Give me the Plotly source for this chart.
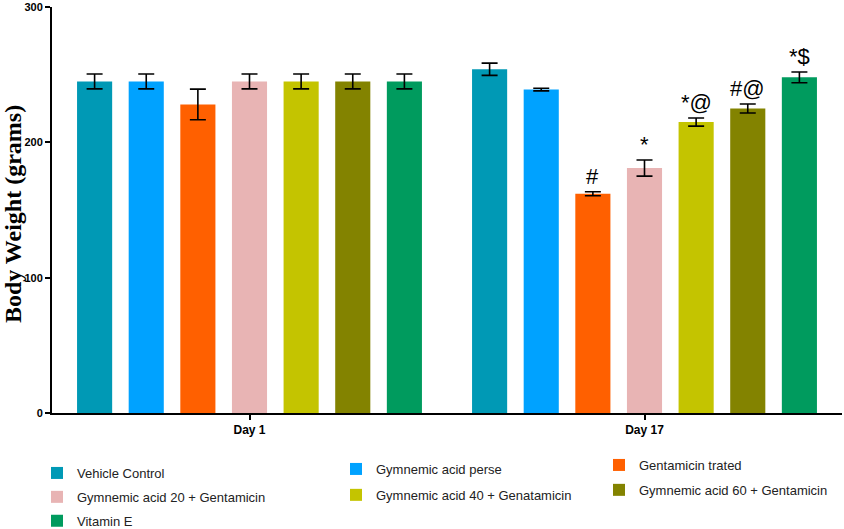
import plotly.graph_objects as go

days = ["Day 1", "Day 17"]
groups = ["Vehicle Control", "Gymnemic acid perse", "Gentamicin trated",
          "Gymnemic acid 20 + Gentamicin", "Gymnemic acid 40 + Genatamicin",
          "Gymnemic acid 60 + Gentamicin", "Vitamin E"]
means = {
    "Vehicle Control": [245, 254],
    "Gymnemic acid perse": [245, 239],
    "Gentamicin trated": [228, 162],
    "Gymnemic acid 20 + Gentamicin": [245, 181],
    "Gymnemic acid 40 + Genatamicin": [245, 215],
    "Gymnemic acid 60 + Gentamicin": [245, 225],
    "Vitamin E": [245, 248],
}
errors = {
    "Vehicle Control": [5.5, 4.5],
    "Gymnemic acid perse": [5.5, 1.0],
    "Gentamicin trated": [11.3, 1.5],
    "Gymnemic acid 20 + Gentamicin": [5.5, 6.0],
    "Gymnemic acid 40 + Genatamicin": [5.5, 3.0],
    "Gymnemic acid 60 + Gentamicin": [5.5, 3.3],
    "Vitamin E": [5.5, 4.0],
}
signif_day17 = ["", "", "#", "*", "*@", "#@", "*$"]
colors = ["#0099B5", "#00A2FF", "#FF6000", "#E8B4B4", "#C4C400", "#838300", "#009B5E"]
legend_col = ["legend", "legend2", "legend3", "legend", "legend2", "legend3", "legend"]
y_title = "Body Weight (grams)"

W, H = 844, 529
ML, MR, MT, MB = 52, 2, 7, 116
bargap = 0.085
bargroupgap = 0.32

fig = go.Figure()
for i, g in enumerate(groups):
    fig.add_trace(go.Bar(
        x=days, y=means[g], name=g,
        marker=dict(color=colors[i], line=dict(width=0)),
        error_y=dict(type="data", array=errors[g], color="black", thickness=1.6, width=8),
        legend=legend_col[i], legendgroup=g,
    ))

n = len(groups)
slot = (1 - bargap) / n
for i, txt in enumerate(signif_day17):
    if not txt:
        continue
    fig.add_annotation(
        x=1 + (i - (n - 1) / 2) * slot, xref="x",
        y=means[groups[i]][1] + errors[groups[i]][1], yref="y",
        text=txt, showarrow=False, yanchor="bottom", yshift=1,
        font=dict(family="Liberation Sans, Arial, sans-serif", size=22, color="black"),
    )

# y-axis title (as a rotated annotation placed in the left margin)
fig.add_annotation(
    x=(13 - ML) / (W - ML - MR), xref="paper", y=0.49, yref="paper",
    text=y_title, textangle=-90, showarrow=False, xanchor="center", yanchor="middle",
    font=dict(family="Liberation Serif, Times New Roman, serif", size=24,
              color="black", weight="bold"),
)

leg_font = dict(family="Liberation Sans, Arial, sans-serif", size=13, color="#222222")
def leg(xpx, ypx, gap):
    return dict(x=xpx / W, y=1 - ypx / H, xref="container", yref="container",
                xanchor="left", yanchor="top", font=leg_font, bgcolor="rgba(0,0,0,0)",
                traceorder="grouped", tracegroupgap=gap, itemsizing="constant")

fig.update_layout(
    width=W, height=H,
    margin=dict(l=ML, r=MR, t=MT, b=MB, autoexpand=False),
    paper_bgcolor="white", plot_bgcolor="white",
    barmode="group", bargap=bargap, bargroupgap=bargroupgap,
    showlegend=True,
    legend=leg(37, 458, 4),
    legend2=leg(336, 454, 6),
    legend3=leg(599, 450, 5),
    xaxis=dict(
        type="category", range=[-0.5, 1.5], autorange=False,
        showline=True, linecolor="black", linewidth=2,
        ticks="outside", ticklen=5, tickwidth=1.5, tickcolor="black",
        tickfont=dict(family="Liberation Sans, Arial, sans-serif", size=12, color="black", weight="bold"),
        showgrid=False, zeroline=False,
    ),
    yaxis=dict(
        range=[0, 300], autorange=False, tickvals=[0, 100, 200, 300],
        showline=True, linecolor="black", linewidth=2,
        ticks="outside", ticklen=5, tickwidth=1.5, tickcolor="black",
        tickfont=dict(family="Liberation Sans, Arial, sans-serif", size=11, color="black", weight="bold"),
        showgrid=False, zeroline=False, automargin=False,
    ),
)

fig.write_html("out.html", config={"displayModeBar": False},
               post_script="document.body.style.margin='0px';")
